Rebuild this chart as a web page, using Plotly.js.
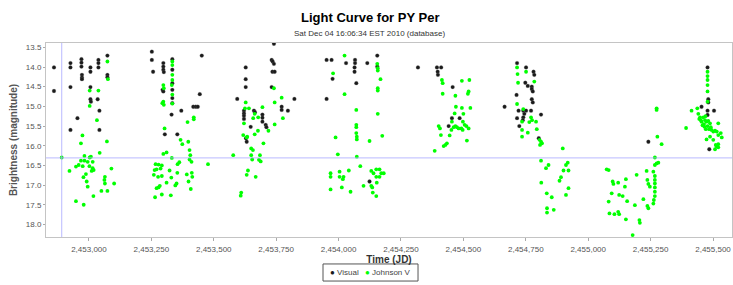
<!DOCTYPE html>
<html><head><meta charset="utf-8">
<script src="https://cdn.plot.ly/plotly-3.0.1.min.js"></script>
<style>html,body{margin:0;padding:0;background:#fff}#chart{width:733px;height:285px}</style>
</head><body><div id="chart"></div>
<script>
const visualJD = [
2452860,2452860,2452926,2452926,2452926,2452970,2452970,2452970,2452972,2452972,2452972,2453006,2453006,2453006,2453006,2453008,2453038,2453038,2453038,2453035,2453042,2452954,2452926,2453042,2453074,2453074,2453074,
2453252,2453252,2453257,2453298,2453298,2453298,2453300,2453295,2453298,2453334,2453334,2453334,2453334,2453334,2453334,2453452,2453444,2453370,2453331,2453418,2453428,2453436,2453304,2453354,
2453594,2453628,2453628,2453628,2453741,2453732,2453736,2453741,2453735,2453744,2453732,2453621,2453621,2453621,2453621,2453661,2453665,2453695,2453695,2453695,2453708,2453711,2453648,2453629,2453632,2453772,2453772,2453797,2453823,2453952,2453972,2453952,
2453976,2454030,2454066,2454066,2454064,2454064,2454071,2454115,2454155,2454155,2454318,2454124,
2454394,2454411,2454397,2454398,2454457,2454454,2454485,2454441,2454665,2454715,2454713,2454721,2454715,2454724,
2454751,2454781,2454784,2454748,2454758,2454774,2454774,2454778,2454774,2454778,2454740,2454751,2454771,2454744,2454740,2454738,2454811,2454802,
2455241,2455478,2455481,2455481,2455454,2455478,2455504,2455478,2455485];
const visualMag = [
14.01,14.61,13.90,14.01,14.51,13.80,13.89,13.99,14.20,14.27,14.31,14.01,14.12,14.51,14.82,14.88,13.82,13.90,14.01,14.82,15.11,15.30,15.60,15.60,13.71,14.20,14.26,
13.61,13.82,14.12,13.90,13.99,14.07,14.13,14.58,14.62,13.80,14.07,14.41,14.58,14.79,14.92,13.71,14.69,15.11,15.21,15.01,15.01,15.01,15.71,15.71,
14.81,14.01,14.31,14.51,13.41,13.82,13.86,13.92,14.12,14.12,14.51,15.11,15.18,15.24,15.32,15.11,15.15,15.21,15.29,15.39,15.47,15.53,15.52,15.81,15.90,15.01,15.09,15.11,14.81,13.82,13.82,14.81,
14.30,13.90,13.82,13.90,14.01,14.12,14.41,13.90,13.71,13.99,14.01,16.91,
14.01,14.01,14.12,14.20,14.51,15.30,15.30,15.50,15.01,13.90,14.71,15.11,15.30,15.50,
14.01,14.12,14.20,14.40,14.48,14.50,14.56,14.62,14.82,14.90,15.11,15.11,15.11,15.19,15.28,15.35,15.21,15.81,
15.90,14.01,14.82,14.90,15.01,15.11,15.11,15.22,16.09];

const johnsonJD = [
2453074,2453076,2453003,2453038,2453003,2453032,2452974,2452968,2453072,2453043,2452891,2452982,2453003,2453008,2452968,2452982,2452995,2453015,2452959,2452948,2452975,2453002,2453015,2452922,2453011,2453019,2452988,2453090,2452978,2453064,2452991,2453062,2453064,2453101,2452995,2453050,2453074,2453018,2452948,2452979,
2453334,2453334,2453334,2453334,2453332,2453334,2453334,2453298,2453300,2453298,2453300,2453294,2453420,2453420,2453395,2453303,2453367,2453374,2453398,2453403,2453406,2453311,2453298,2453332,2453578,2453267,2453279,2453292,2453362,2453355,2453403,2453411,2453477,2453263,2453271,2453287,2453323,2453354,2453260,2453277,2453292,2453392,2453412,2453414,2453330,2453311,2453351,2453346,2453399,2453284,2453279,2453271,2453408,2453292,2453328,2453265,
2453741,2453772,2453744,2453628,2453641,2453625,2453695,2453664,2453658,2453678,2453777,2453621,2453744,2453677,2453664,2453719,2453618,2453634,2453632,2453699,2453650,2453657,2453650,2453685,2453654,2453681,2453688,2453637,2453632,2453668,2453610,2453608,2453978,2453968,2453968,2453968,
2454024,2454155,2454157,2454157,2454168,2454157,2454157,2454024,2454071,2454157,2454071,2454071,2454071,2454073,2454073,2453988,2454124,2454175,2453997,2454073,2454087,2454004,2454004,2454020,2454017,2454041,2454131,2454140,2454151,2454164,2454171,2454181,2454151,2454164,2454131,2454135,2454100,2454153,2454013,2454048,2454137,2454151,
2454414,2454417,2454494,2454524,2454417,2454521,2454518,2454468,2454470,2454494,2454528,2454465,2454500,2454454,2454498,2454505,2454401,2454406,2454461,2454468,2454474,2454481,2454492,2454497,2454512,2454521,2454452,2454410,2454445,2454514,2454434,2454428,2454421,2454385,2454715,2454717,2454719,2454715,
2454751,2454784,2454740,2454771,2454775,2454735,2454764,2454791,2454735,2454758,2454794,2454735,2454805,2454811,2454807,2454815,2454898,2454811,2454918,2454911,2454841,2454831,2454901,2454921,2454891,2454885,2454812,2454921,2454834,2454854,2454911,2454835,2454835,2454862,2455074,2455082,2455098,2455101,2455094,2455082,2455085,2455105,
2455274,2455274,2455277,2455294,2455267,2455281,2455274,2455267,2455234,2455261,2455194,2455151,2455120,2455237,2455241,2455247,2455267,2455267,2455267,2455267,2455267,2455267,2455263,2455261,2455147,2455124,2455138,2455221,2455156,2455187,2455237,2455241,2455120,2455124,2455151,2455205,2455207,2455178,
2455478,2455478,2455478,2455478,2455478,2455478,2455414,2455437,2455392,
2455441,2455448,2455451,2455454,2455461,2455464,2455468,2455474,2455481,2455488,2455491,2455494,2455501,2455508,2455515,2455521,2455521,2455531,2455535,2455471,2455474,2455488,2455501,2455511,2455521,2455515,2455508,2455521,2455458,2455466,2455478,2455484,2455470,2455445];
const johnsonMag = [
13.86,14.31,14.60,14.60,14.99,15.35,15.74,15.94,15.89,16.18,16.30,16.26,16.30,16.28,16.38,16.38,16.41,16.41,16.49,16.53,16.52,16.52,16.57,16.64,16.64,16.62,16.72,16.58,16.80,16.79,16.91,16.87,16.96,16.96,17.04,17.15,17.15,17.28,17.41,17.50,
13.86,13.95,14.20,14.33,14.46,14.70,14.93,14.46,14.54,14.88,14.96,14.92,15.28,15.33,15.40,15.56,15.85,15.96,15.90,16.11,16.24,16.17,16.21,16.31,16.24,16.47,16.48,16.50,16.42,16.47,16.35,16.41,16.47,16.62,16.60,16.58,16.63,16.69,16.74,16.79,16.77,16.73,16.69,16.79,16.81,16.94,16.96,17.01,16.91,17.02,17.06,17.08,17.10,17.24,17.26,17.31,
14.54,14.78,14.90,14.90,15.05,15.05,15.02,15.19,15.30,15.28,15.30,15.43,15.46,15.62,15.71,15.62,15.73,15.77,15.79,15.94,16.07,16.11,16.24,16.24,16.35,16.36,16.40,16.63,16.74,16.79,17.19,17.27,14.16,16.70,16.79,17.11,
13.71,13.92,14.03,14.09,14.31,14.54,14.60,14.69,15.09,15.19,15.47,15.53,15.68,15.77,15.84,15.79,15.88,15.75,16.22,16.28,16.52,16.66,16.79,16.79,16.85,16.63,16.64,16.70,16.60,16.60,16.70,16.70,16.79,16.79,17.02,17.06,17.02,16.94,17.06,17.17,17.19,17.28,
14.33,14.41,14.35,14.33,14.68,14.62,14.68,14.73,15.01,15.04,15.04,15.18,15.19,15.39,15.39,15.47,15.50,15.56,15.53,15.50,15.53,15.56,15.56,15.60,15.50,15.56,15.60,15.73,15.74,15.87,15.94,15.98,16.01,16.13,14.01,14.18,14.40,14.94,
14.12,14.37,15.07,15.28,15.35,15.39,15.40,15.39,15.60,15.67,15.58,15.77,15.85,15.90,15.98,15.94,16.07,16.38,16.43,16.49,16.49,16.57,16.63,16.63,16.80,16.89,16.94,17.08,17.21,17.31,17.25,17.59,17.70,17.63,16.60,16.62,16.91,16.97,17.21,17.42,17.72,17.74,
15.05,15.09,15.77,15.96,16.30,16.43,16.45,16.49,16.64,16.66,16.74,16.85,16.94,16.87,16.97,17.04,16.77,16.87,16.96,17.06,17.17,17.28,17.38,17.47,17.04,17.25,17.28,17.36,17.41,17.51,17.53,17.59,17.68,17.74,17.87,17.89,17.96,18.27,
14.12,14.23,14.33,14.46,14.62,14.88,15.11,15.05,15.55,
15.19,15.28,15.35,15.39,15.28,15.45,15.35,15.39,15.37,15.43,15.53,15.60,15.64,15.62,15.64,15.43,15.73,15.68,15.79,15.58,15.84,15.77,15.85,15.98,15.96,16.02,16.09,16.04,15.48,15.52,15.50,15.58,15.25,15.32];

const seriesNames = ["Visual", "Johnson V"];
const seriesColors = ["#1a1a1a", "#00ff00"];
const titleText = "Light Curve for PY Per";
const subtitleText = "Sat Dec 04 16:06:34 EST 2010 (database)";
const crosshairJD = 2452891;
const crosshairMag = 16.31;

const FONT = "Liberation Sans, Arial, sans-serif";
const traces = [
  {x: visualJD, y: visualMag, name: seriesNames[0], type: "scatter", mode: "markers",
   marker: {color: seriesColors[0], size: 3.8, line: {color: "rgba(120,120,120,0.5)", width: 0.5}}},
  {x: johnsonJD, y: johnsonMag, name: seriesNames[1], type: "scatter", mode: "markers",
   marker: {color: seriesColors[1], size: 3.8}}
];
const legY = -0.183;
const layout = {
  width: 733, height: 285,
  margin: {l: 46, r: 1, t: 43, b: 48},
  paper_bgcolor: "#fff", plot_bgcolor: "#fff",
  font: {family: FONT, color: "#444", size: 8},
  showlegend: false,
  xaxis: {range: [2452828, 2455576], tick0: 2453000, dtick: 250, tickformat: ",d",
          showgrid: false, zeroline: false, showline: true, mirror: true, linecolor: "#c4c4c4", linewidth: 1,
          ticks: "outside", ticklen: 3, tickcolor: "#aaa", tickfont: {size: 8, color: "#555"}, ticklabelstandoff: 1,
          title: {text: "<b>Time (JD)</b>", font: {size: 10, color: "#333"}, standoff: 2}},
  yaxis: {range: [18.32, 13.39], tick0: 13.5, dtick: 0.5, tickformat: ".1f",
          showgrid: false, zeroline: false, showline: true, mirror: true, linecolor: "#c4c4c4", linewidth: 1,
          ticks: "outside", ticklen: 2, tickcolor: "#aaa", tickfont: {size: 8, color: "#555"},
          title: {text: "<b>Brightness (magnitude)</b>", font: {size: 10, color: "#555"}, standoff: 6}},
  shapes: [
    {type: "line", xref: "x", yref: "paper", x0: crosshairJD, x1: crosshairJD, y0: 0, y1: 1, line: {color: "#a8a8ff", width: 0.8}},
    {type: "line", xref: "paper", yref: "y", x0: 0, x1: 1, y0: crosshairMag, y1: crosshairMag, line: {color: "#a8a8ff", width: 0.8}},
    {type: "rect", xref: "paper", yref: "paper", x0: 0.4038, x1: 0.5423, y0: -0.139, y1: -0.227, line: {color: "#555", width: 1}, fillcolor: "#fff"}
  ],
  annotations: [
    {text: "<b>" + titleText + "</b>", xref: "paper", yref: "paper", x: 0.472, y: 1.134, xanchor: "center", yanchor: "middle",
     showarrow: false, font: {family: FONT, size: 13, color: "#000"}},
    {text: subtitleText, xref: "paper", yref: "paper", x: 0.472, y: 1.0515, xanchor: "center", yanchor: "middle",
     showarrow: false, font: {family: FONT, size: 8, color: "#333"}},
    {text: "<span style='color:" + seriesColors[0] + "'>●</span> " + seriesNames[0], xref: "paper", yref: "paper",
     x: 0.4115, y: legY, xanchor: "left", yanchor: "middle", showarrow: false, font: {family: FONT, size: 8, color: "#444"}},
    {text: "<span style='color:" + seriesColors[1] + "'>●</span> " + seriesNames[1], xref: "paper", yref: "paper",
     x: 0.4615, y: legY, xanchor: "left", yanchor: "middle", showarrow: false, font: {family: FONT, size: 8, color: "#444"}}
  ]
};
Plotly.newPlot("chart", traces, layout, {displayModeBar: false, staticPlot: true});
</script></body></html>
